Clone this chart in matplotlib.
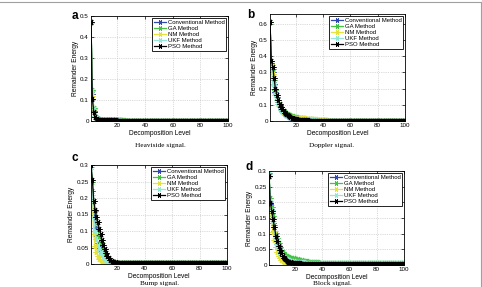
import numpy as np
import matplotlib
matplotlib.use("Agg")
import matplotlib.pyplot as plt
from matplotlib.lines import Line2D

# ---------------- data (values in thousandths of energy) ----------------
levels = list(range(1, 101))
methods = ["Conventional Method", "GA Method", "NM Method", "UKF Method", "PSO Method"]
colors = ["#3048b0", "#44c444", "#e6e23c", "#96e8d6", "#000000"]

# Heaviside signal
a_conv = [470,130,50,20,12,9,7,6,5,5, 4,4,4,3,3,3,3,3,3,3, 3,3,2,2,2,2,2,2,2,2,
          2,2,2,2,2,2,2,2,2,2, 2,2,2,2,1,1,1,1,1,1, 1,1,1,1,1,1,1,1,1,1,
          1,1,1,1,1,1,1,1,1,1, 1,1,1,1,1,1,1,1,1,1, 1,1,1,1,1,1,1,1,1,1,
          1,1,1,1,1,1,1,1,1,1]
a_ga = [470,150,62,26,15,10,8,7,6,5, 5,4,4,4,4,3,3,3,3,3, 3,3,3,3,3,2,2,2,2,2,
        2,2,2,2,2,2,2,2,2,2, 2,2,2,2,2,2,2,1,1,1, 1,1,1,1,1,1,1,1,1,1,
        1,1,1,1,1,1,1,1,1,1, 1,1,1,1,1,1,1,1,1,1, 1,1,1,1,1,1,1,1,1,1,
        1,1,1,1,1,1,1,1,1,1]
a_nm = [465,120,45,18,10,7,6,5,4,4, 3,3,3,3,2,2,2,2,2,2, 2,2,2,2,2,2,2,2,2,1,
        1,1,1,1,1,1,1,1,1,1, 1,1,1,1,1,1,1,1,1,1, 1,1,1,1,1,1,1,1,1,1,
        1,1,1,1,1,1,1,1,1,1, 1,1,1,1,1,1,1,1,1,1, 1,1,1,1,1,1,1,1,1,1,
        1,1,1,1,1,1,1,1,1,1]
a_ukf = [470,142,56,22,13,9,7,6,5,5, 4,4,3,3,3,3,3,3,3,3, 3,2,2,2,2,2,2,2,2,2,
         2,2,2,2,2,2,2,2,2,2, 2,2,1,1,1,1,1,1,1,1, 1,1,1,1,1,1,1,1,1,1,
         1,1,1,1,1,1,1,1,1,1, 1,1,1,1,1,1,1,1,1,1, 1,1,1,1,1,1,1,1,1,1,
         1,1,1,1,1,1,1,1,1,1]
a_pso = [470,105,44,17,10,7,6,5,4,4, 4,3,3,3,3,3,3,3,3,2, 2,2,2,2,2,2,2,2,2,2,
         2,2,2,2,2,2,2,2,2,2, 2,2,2,2,2,2,1,1,1,1, 1,1,1,1,1,1,1,1,1,1,
         1,1,1,1,1,1,1,1,1,1, 1,1,1,1,1,1,1,1,1,1, 1,1,1,1,1,1,1,1,1,1,
         1,1,1,1,1,1,1,1,1,1]

# Doppler signal
b_conv = [610,360,300,230,180,145,115,92,75,62, 52,44,37,31,27,23,20,17,15,13,
          11,10,9,8,7,6,6,5,5,4, 4,4,4,3,3,3,3,3,3,2, 2,2,2,2,2,2,2,2,2,2,
          2,2,2,1,1,1,1,1,1,1, 1,1,1,1,1,1,1,1,1,1, 1,1,1,1,1,1,1,1,1,1,
          1,1,1,1,1,1,1,1,1,1, 1,1,1,1,1,1,1,1,1,1]
b_ga = [610,370,320,250,190,150,120,100,85,72, 62,55,48,42,38,34,31,28,26,24,
        22,20,19,18,17,16,15,14,13,12, 11,10,9,8,7,6,6,5,5,4, 4,4,3,3,3,3,3,2,2,2,
        2,2,2,2,2,2,2,2,1,1, 1,1,1,1,1,1,1,1,1,1, 1,1,1,1,1,1,1,1,1,1,
        1,1,1,1,1,1,1,1,1,1, 1,1,1,1,1,1,1,1,1,1]
b_nm = [610,350,290,220,170,130,105,85,70,60, 50,44,38,34,30,27,25,23,21,20,
        19,18,18,17,17,16,16,15,15,14, 14,13,12,11,10,9,8,7,6,5, 5,4,4,3,3,3,2,2,2,2,
        2,2,2,2,2,1,1,1,1,1, 1,1,1,1,1,1,1,1,1,1, 1,1,1,1,1,1,1,1,1,1,
        1,1,1,1,1,1,1,1,1,1, 1,1,1,1,1,1,1,1,1,1]
b_ukf = [610,330,230,200,160,130,105,85,70,58, 48,40,34,29,25,22,19,17,15,13,
         12,11,10,9,8,7,7,6,6,5, 5,5,4,4,4,3,3,3,3,2, 2,2,2,2,2,2,2,2,2,1,
         1,1,1,1,1,1,1,1,1,1, 1,1,1,1,1,1,1,1,1,1, 1,1,1,1,1,1,1,1,1,1,
         1,1,1,1,1,1,1,1,1,1, 1,1,1,1,1,1,1,1,1,1]
b_pso = [610,373,336,264,196,161,130,105,85,72, 62,52,44,37,31,26,21,17,14,12,
         10,8,7,6,5,5,4,4,4,3, 3,3,3,3,2,2,2,2,2,2, 2,2,2,2,2,2,2,2,1,1,
         1,1,1,1,1,1,1,1,1,1, 1,1,1,1,1,1,1,1,1,1, 1,1,1,1,1,1,1,1,1,1,
         1,1,1,1,1,1,1,1,1,1, 1,1,1,1,1,1,1,1,1,1]

# Bump signal
c_conv = [295,220,150,110,85,65,50,38,29,22, 17,13,10,8,6,5,4,4,3,3,
          3,3,3,3,3,3,3,3,3,3, 2,2,2,2,2,2,2,2,2,2, 2,2,2,2,2,2,2,2,2,2,
          2,2,2,2,2,2,2,2,2,2, 2,2,2,2,2,2,2,2,2,2, 2,2,2,2,2,2,2,2,2,2,
          2,2,2,2,2,2,2,2,2,2, 2,2,2,2,2,2,2,2,2,2]
c_ga = [300,250,190,160,130,105,85,68,53,41, 31,23,17,12,9,7,5,4,4,3,
        3,3,3,3,3,3,3,3,3,3, 3,3,3,3,3,2,2,2,2,2, 2,2,2,2,2,2,2,2,2,2,
        2,2,2,2,2,2,2,2,2,2, 2,2,2,2,2,2,2,2,2,2, 2,2,2,2,2,2,2,2,2,2,
        2,2,2,2,2,2,2,2,2,2, 2,2,2,2,2,2,2,2,2,2]
c_nm = [295,180,90,55,35,24,16,11,8,6, 5,4,3,3,3,3,3,2,2,2,
        2,2,2,2,2,2,2,2,2,2, 2,2,2,2,2,2,2,2,2,2, 2,2,2,2,2,2,2,2,2,2,
        2,2,2,2,2,2,2,2,2,2, 2,2,2,2,2,2,2,2,2,2, 2,2,2,2,2,2,2,2,2,2,
        2,2,2,2,2,2,2,2,2,2, 2,2,2,2,2,2,2,2,2,2]
c_ukf = [295,210,140,100,75,58,45,35,27,21, 16,12,9,7,6,5,4,4,3,3,
         3,3,3,3,3,3,3,3,3,2, 2,2,2,2,2,2,2,2,2,2, 2,2,2,2,2,2,2,2,2,2,
         2,2,2,2,2,2,2,2,2,2, 2,2,2,2,2,2,2,2,2,2, 2,2,2,2,2,2,2,2,2,2,
         2,2,2,2,2,2,2,2,2,2, 2,2,2,2,2,2,2,2,2,2]
c_pso = [300,255,190,165,143,126,107,92,74,59, 46,33,23,17,12,8,6,5,5,4,
         4,4,4,4,4,4,4,3,3,3, 3,3,3,3,3,3,3,3,3,3, 3,3,3,3,3,3,3,3,3,3,
         3,3,3,3,3,3,3,3,3,3, 3,3,3,3,3,3,3,3,3,3, 3,3,3,3,3,3,3,3,3,3,
         3,3,3,3,3,3,3,3,3,3, 3,3,3,3,3,3,3,3,3,3]

# Block signal
d_conv = [285,195,165,135,110,85,68,54,43,34, 27,22,18,15,13,11,10,9,8,8,
          7,7,6,6,6,6,5,5,5,5, 5,5,5,5,5,5,4,4,4,4, 4,4,4,4,4,4,4,4,4,4,
          4,4,4,4,4,4,4,4,4,4, 4,4,4,4,4,4,4,4,4,4, 4,4,4,4,4,4,4,4,4,4,
          4,4,4,4,4,4,4,4,4,4, 4,4,4,4,4,4,4,4,4,4]
d_ga = [295,215,185,155,128,103,86,70,58,48, 41,36,32,29,27,25,23,22,21,20,
        19,18,17,16,15,14,13,12,12,11, 10,10,9,9,8,8,8,7,7,7, 7,6,6,6,6,6,6,5,5,5,
        5,5,5,5,5,5,5,5,5,5, 5,5,5,5,5,5,5,5,5,5, 5,5,5,5,5,5,5,5,5,5,
        5,5,5,5,5,5,5,5,5,5, 5,5,5,5,5,5,5,5,5,5]
d_nm = [280,180,140,105,80,58,42,30,22,16, 12,9,7,6,5,4,4,3,3,3,
        3,3,3,3,3,3,3,3,3,3, 3,3,3,3,3,3,3,3,3,3, 3,3,3,3,3,3,3,3,3,3,
        3,3,3,3,3,3,3,3,3,3, 3,3,3,3,3,3,3,3,3,3, 3,3,3,3,3,3,3,3,3,3,
        3,3,3,3,3,3,3,3,3,3, 3,3,3,3,3,3,3,3,3,3]
d_ukf = [290,205,175,140,110,85,68,54,43,35, 29,25,22,19,17,15,14,13,12,11,
         10,10,9,9,8,8,8,7,7,7, 7,7,6,6,6,6,6,6,6,6, 6,6,6,6,6,6,6,6,5,5,
         5,5,5,5,5,5,5,5,5,5, 5,5,5,5,5,5,5,5,5,5, 5,5,5,5,5,5,5,5,5,5,
         5,5,5,5,5,5,5,5,5,5, 5,5,5,5,5,5,5,5,5,5]
d_pso = [285,198,173,147,120,94,78,62,49,38, 30,23,18,14,11,9,8,7,6,6,
         5,5,5,5,4,4,4,4,4,4, 4,4,4,4,4,4,4,4,4,4, 4,4,4,4,4,4,4,4,4,4,
         4,4,4,4,4,4,4,4,4,4, 4,4,4,4,4,4,4,4,4,4, 4,4,4,4,4,4,4,4,4,4,
         4,4,4,4,4,4,4,4,4,4, 4,4,4,4,4,4,4,4,4,4]

xticks = [20, 40, 60, 80, 100]
a_yticks = [0, 0.1, 0.2, 0.3, 0.4, 0.5]
a_ylabels = ["0", "0.1", "0.2", "0.3", "0.4", "0.5"]
b_yticks = [0, 0.1, 0.2, 0.3, 0.4, 0.5, 0.6]
b_ylabels = ["0", "0.1", "0.2", "0.3", "0.4", "0.5", "0.6"]
cd_yticks = [0, 0.05, 0.1, 0.15, 0.2, 0.25, 0.3]
cd_ylabels = ["0", "0.05", "0.1", "0.15", "0.2", "0.25", "0.3"]

letters = ["a", "b", "c", "d"]
captions = ["Heaviside signal.", "Doppler signal.", "Bump signal.", "Block signal."]

# ---------------- figure ----------------
W, H = 482, 287
fig = plt.figure(figsize=(W / 100, H / 100), dpi=100)
plt.rcParams["font.family"] = ["Liberation Sans", "DejaVu Sans"]

def rect(l, t, r, b):
    return [l / W, 1 - b / H, (r - l) / W, (b - t) / H]

panels = [
    dict(rect=rect(91, 16, 228, 121), series=[a_conv, a_ga, a_nm, a_ukf, a_pso],
         ylim=(0, 0.5), yt=a_yticks, yl=a_ylabels, letter=(72, 16), cap=(160, 145)),
    dict(rect=rect(270, 14, 405, 121), series=[b_conv, b_ga, b_nm, b_ukf, b_pso],
         ylim=(0, 0.66), yt=b_yticks, yl=b_ylabels, letter=(247, 15), cap=(332, 145)),
    dict(rect=rect(91, 165, 227, 264), series=[c_conv, c_ga, c_nm, c_ukf, c_pso],
         ylim=(0, 0.3), yt=cd_yticks, yl=cd_ylabels, letter=(71, 158), cap=(160, 284)),
    dict(rect=rect(269, 171, 404, 265), series=[d_conv, d_ga, d_nm, d_ukf, d_pso],
         ylim=(0, 0.3), yt=cd_yticks, yl=cd_ylabels, letter=(246, 167), cap=(332, 284)),
]

x = np.array(levels)
for i, p in enumerate(panels):
    ax = fig.add_axes(p["rect"])
    for name, col, vals in zip(methods, colors, p["series"]):
        ax.plot(x, np.array(vals) / 1000.0, color=col, lw=0.9, marker=(6, 2, 90),
                ms=4.2, mew=0.7, label=name)
    ax.set_xlim(1, 100)
    ax.set_ylim(*p["ylim"])
    ax.set_xticks(xticks)
    ax.set_xticklabels([str(t) for t in xticks])
    ax.set_yticks(p["yt"])
    ax.set_yticklabels(p["yl"])
    ax.grid(True, linestyle=":", color="#b8b8b8", lw=0.5)
    ax.set_axisbelow(True)
    ax.tick_params(direction="in", length=2, width=0.5, labelsize=4.5, pad=1.5,
                   top=True, right=True)
    for s in ax.spines.values():
        s.set_linewidth(0.6)
    ax.set_xlabel("Decomposition Level", fontsize=4.8, labelpad=1.5)
    ax.set_ylabel("Remainder Energy", fontsize=4.8, labelpad=1.0)
    leg = ax.legend(loc="upper right", fontsize=4.3, frameon=True, fancybox=False,
                    edgecolor="black", framealpha=1, borderaxespad=0.35,
                    handlelength=2.0, handletextpad=0.3, labelspacing=0.15,
                    borderpad=0.25, markerscale=0.8)
    leg.get_frame().set_linewidth(0.6)
    lx, ly = p["letter"]
    fig.text(lx / W, 1 - ly / H, letters[i], fontsize=8.5, fontweight="bold",
             ha="left", va="center")
    cx, cy = p["cap"]
    fig.text(cx / W, 1 - cy / H, captions[i], fontsize=5.2, family="Liberation Serif",
             ha="center", va="center")

# thin grey page border (top and right)
fig.add_artist(Line2D([0, 480.5 / W], [1 - 2 / H, 1 - 2 / H], transform=fig.transFigure,
                      color="#a0a0a0", lw=0.8))
fig.add_artist(Line2D([480.5 / W, 480.5 / W], [0, 1 - 2 / H], transform=fig.transFigure,
                      color="#a0a0a0", lw=0.8))

fig.savefig("out.png", dpi=100)
